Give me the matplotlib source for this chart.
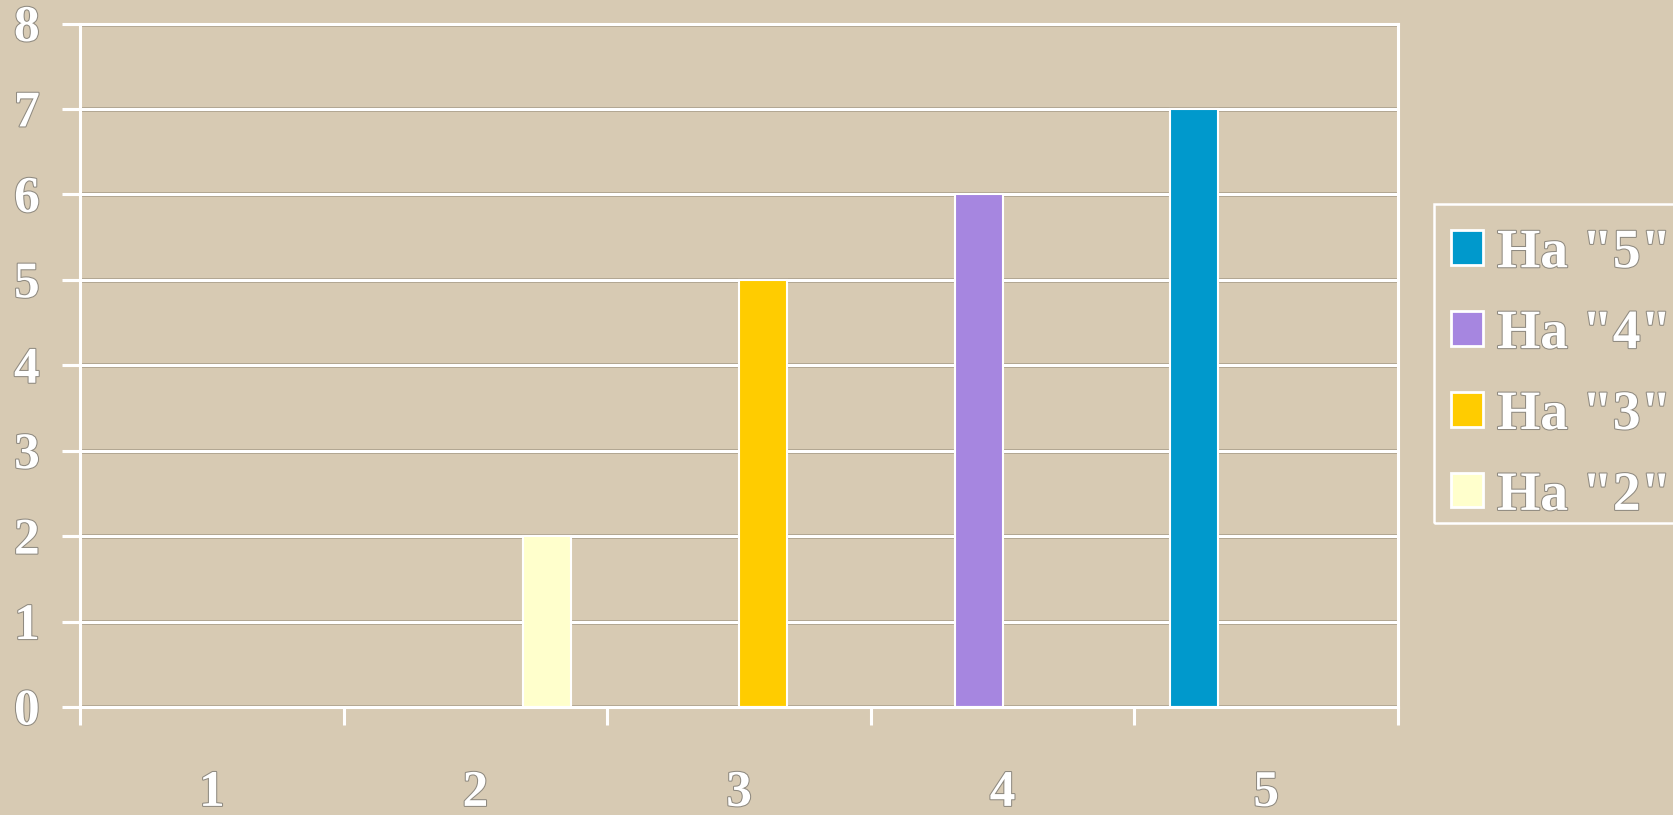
import numpy as np
import matplotlib
matplotlib.use("Agg")
import matplotlib.pyplot as plt
import matplotlib.patheffects as pe
from matplotlib.patches import Rectangle

plt.rcParams['font.family'] = 'serif'
plt.rcParams['font.serif'] = ['Liberation Serif', 'Times New Roman', 'DejaVu Serif']
plt.rcParams['font.weight'] = 'bold'

# data
categories = ["1", "2", "3", "4", "5"]
series_names = ['Ha "5"', 'Ha "4"', 'Ha "3"', 'Ha "2"']
ha5 = [0, 0, 0, 0, 7]
ha4 = [0, 0, 0, 6, 0]
ha3 = [0, 0, 5, 0, 0]
ha2 = [0, 2, 0, 0, 0]
colors = ["#0099CC", "#A686E0", "#FFCC00", "#FFFFCC"]
y_ticks = [0, 1, 2, 3, 4, 5, 6, 7, 8]

bg = "#D7CAB3"
outline = [pe.Stroke(linewidth=1.5, foreground="#8f8a80"), pe.Normal()]
line_fx = [pe.Stroke(linewidth=3.6, foreground="#b0a590"), pe.Normal()]

W, H = 1673, 815
fig = plt.figure(figsize=(W/100, H/100), dpi=100, facecolor=bg)
ax = fig.add_axes([80/W, 1-707/H, (1398-80)/W, (707-23.5)/H])
ax.set_facecolor(bg)

x = np.arange(len(categories))
w = 0.182
all_series = [ha5, ha4, ha3, ha2]
handles = []
for i, vals in enumerate(all_series):
    vals = np.array(vals, dtype=float)
    pos = x + (i - 1.5) * w
    keep = vals > 0
    b = ax.bar(pos[keep], vals[keep], width=w, color=colors[i],
               edgecolor="white", linewidth=1.5, zorder=3, label=series_names[i])
    handles.append(b)

ax.set_xlim(-0.5, 4.5)
ax.set_ylim(0, 8)
ax.set_yticks(y_ticks)
ax.set_xticks(x)
ax.set_xticklabels(categories)
ax.set_xticks(np.arange(-0.5, 5.0, 1.0), minor=True)

for s in ax.spines.values():
    s.set_color("white")
    s.set_linewidth(2.2)
    s.set_zorder(4)

ax.yaxis.grid(True, color="white", linewidth=2.2, zorder=1)
for gl in ax.get_ygridlines():
    gl.set_path_effects(line_fx)

ax.tick_params(axis="y", direction="out", length=13, width=2.2, color="white", pad=16)
ax.tick_params(axis="x", which="major", length=0, pad=46)
ax.tick_params(axis="x", which="minor", direction="out", length=13, width=2.2, color="white")

for lab in ax.get_xticklabels() + ax.get_yticklabels():
    lab.set_fontweight("bold")
    lab.set_fontsize(37)
    lab.set_color("white")
    lab.set_path_effects(outline)

# legend frame drawn by hand so the rows sit where they should
fig.patches.append(Rectangle((1434/W, 1-523/H), 300/W, (523-204)/H,
                             transform=fig.transFigure, facecolor="none",
                             edgecolor="white", linewidth=1.8))

leg = fig.legend(handles=handles, loc="upper left",
                 bbox_to_anchor=(1434/W, 1-210/H),
                 prop={"weight": "bold", "size": 40},
                 frameon=False,
                 handlelength=0.575, handleheight=0.575, handletextpad=0.25,
                 labelspacing=0.52, borderpad=0.31, borderaxespad=0)
for t in leg.get_texts():
    t.set_color("white")
    t.set_path_effects(outline)
for p in leg.get_patches():
    p.set_edgecolor("white")
    p.set_linewidth(2)

fig.savefig("out.png", dpi=100, facecolor=bg)
